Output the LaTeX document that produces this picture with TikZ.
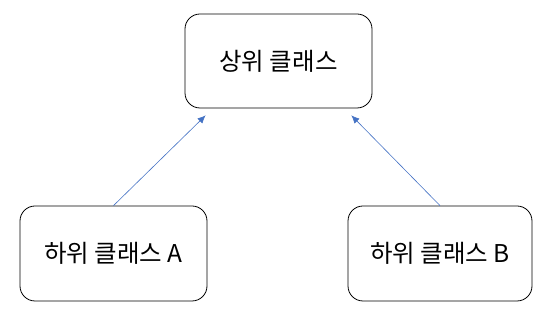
\documentclass[tikz,border=0pt]{standalone}
\usepackage{fontspec}
\setmainfont{Noto Sans CJK KR}
\usetikzlibrary{arrows.meta}
\definecolor{linkblue}{RGB}{68,114,196}
\begin{document}
\begin{tikzpicture}[x=1pt, y=1pt,
    classbox/.style={draw, thick, rounded corners=15pt, font=\fontsize{24.5}{28}\selectfont, inner sep=0pt},
    inherit/.style={-{Latex[length=8pt, width=7pt]}, linkblue, line width=0.6pt}]
    \useasboundingbox (0,0) rectangle (550,313);
    % Klassen
    \node[classbox, minimum width=187pt, minimum height=94pt] (super) at (278.5,252) {상위 클래스};
    \node[classbox, minimum width=187pt, minimum height=95pt] (subA) at (113.5,59.5) {하위 클래스 A};
    \node[classbox, minimum width=184pt, minimum height=95pt] (subB) at (440,59.5) {하위 클래스 B};
    % Vererbung
    \draw[inherit] (subA.north) -- ([xshift=21pt, yshift=-7pt]super.south west);
    \draw[inherit] (subB.north) -- ([xshift=-21pt, yshift=-7pt]super.south east);
\end{tikzpicture}
\end{document}
